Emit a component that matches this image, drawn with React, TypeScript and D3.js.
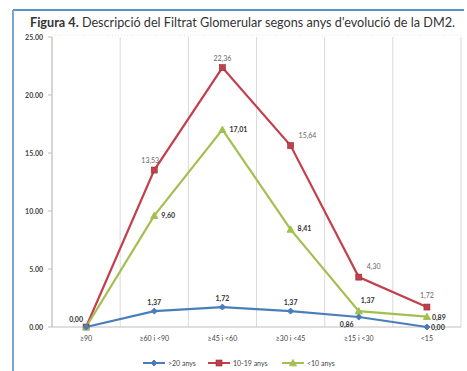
import React from "react";
import * as d3 from "d3";

const categories = ["≥90", "≥60 i <90", "≥45 i <60", "≥30 i <45", "≥15 i <30", "<15"];
const seriesNames = [">20 anys", "10-19 anys", "<10 anys"];
const over20 = [0.0, 1.37, 1.72, 1.37, 0.86, 0.0];
const from10to19 = [0.0, 13.53, 22.36, 15.64, 4.3, 1.72];
const under10 = [0.0, 9.6, 17.01, 8.41, 1.37, 0.89];
const yTicks = [0, 5, 10, 15, 20, 25];

const W = 467;
const H = 371;
const plot = { left: 52, right: 461, top: 37, bottom: 327 };

const colors = ["#4a7ebb", "#c43f4c", "#a2c04f"];
const fmt = (v: number) => v.toFixed(2).replace(".", ",");

export default function App() {
  const x = d3
    .scaleBand<string>()
    .domain(categories)
    .range([plot.left, plot.right]);
  const cx = (c: string) => (x(c) ?? 0) + x.bandwidth() / 2;
  const y = d3.scaleLinear().domain([0, 25]).range([plot.bottom, plot.top]);
  const line = d3
    .line<number>()
    .x((_, i) => cx(categories[i]))
    .y((d) => y(d));

  const series = [over20, from10to19, under10];
  const font = "Lato, 'Open Sans', sans-serif";

  const marker = (k: number, px: number, py: number, key: string) => {
    const c = colors[k];
    if (k === 0) {
      const s = 3;
      return (
        <path
          key={key}
          d={`M${px},${py - s}L${px + s},${py}L${px},${py + s}L${px - s},${py}Z`}
          fill={c}
          stroke={c}
        />
      );
    }
    if (k === 1) {
      return <rect key={key} x={px - 3} y={py - 3} width={6} height={6} fill={c} stroke="#8c2f2d" strokeWidth={0.6} />;
    }
    const s = 3.5;
    return (
      <path
        key={key}
        d={`M${px},${py - s}L${px + s},${py + s * 0.8}L${px - s},${py + s * 0.8}Z`}
        fill={c}
        stroke={c}
      />
    );
  };

  // label offsets per series and point
  const labelPos = (k: number, i: number): [number, number, string] => {
    if (k === 0) {
      if (i === 0) return [-10, -5, "middle"];
      if (i === 4) return [-12, 10, "middle"];
      if (i === 5) return [4, 3, "start"];
      return [0, -6, "middle"];
    }
    if (k === 1) {
      if (i === 2) return [0, -7, "middle"];
      if (i === 1) return [-4, -7, "middle"];
      if (i === 5) return [0, -9, "middle"];
      return [8, -8, "start"];
    }
    if (i === 5) return [5, 3, "start"];
    if (i === 4) return [2, -8, "start"];
    return [7, 2, "start"];
  };

  return (
    <svg width={W} height={H} style={{ position: "absolute", left: 0, top: 0, background: "#fff" }}>
      {/* frame */}
      <line x1={13} y1={10} x2={464} y2={10} stroke="#5b8fc7" strokeWidth={2} />
      <line x1={13} y1={10} x2={13} y2={H} stroke="#7aa6d6" strokeWidth={2} />

      <text x={30} y={27} fontFamily={font} fontSize={12.5} fill="#333" textLength={425} lengthAdjust="spacingAndGlyphs">
        <tspan fontWeight="bold">Figura 4.</tspan> Descripció del Filtrat Glomerular segons anys d'evolució de la DM2.
      </text>

      {/* plot top dotted line */}
      <line x1={plot.left} x2={plot.right} y1={plot.top - 2} y2={plot.top - 2} stroke="#f2d9b8" strokeWidth={0.8} strokeDasharray="1 2" />

      {/* vertical gridlines */}
      {d3.range(categories.length + 1).map((i) => {
        const gx = plot.left + i * x.bandwidth();
        return <line key={i} x1={gx} x2={gx} y1={plot.top} y2={plot.bottom} stroke="#d9d9d9" strokeWidth={1} />;
      })}
      <line x1={plot.left} x2={plot.right} y1={plot.bottom} y2={plot.bottom} stroke="#bfbfbf" />
      <line x1={plot.left} x2={plot.left} y1={plot.top} y2={plot.bottom} stroke="#bfbfbf" />

      {/* y ticks */}
      {yTicks.map((t) => (
        <g key={t}>
          <line x1={plot.left - 4} x2={plot.left} y1={y(t)} y2={y(t)} stroke="#bfbfbf" />
          <text x={plot.left - 9} y={y(t) + 2.5} textAnchor="end" fontFamily={font} fontSize={7} fontWeight="bold" fill="#444">
            {t.toFixed(2)}
          </text>
        </g>
      ))}

      {/* x labels */}
      {categories.map((c) => (
        <text key={c} x={cx(c)} y={plot.bottom + 14} textAnchor="middle" fontFamily={font} fontSize={7} fill="#444">
          {c}
        </text>
      ))}

      {/* lines */}
      {[1, 2, 0].map((k) => (
        <path key={k} d={line(series[k]) ?? ""} fill="none" stroke={colors[k]} strokeWidth={2.2} />
      ))}
      {[1, 2, 0].map((k) => series[k].map((v, i) => marker(k, cx(categories[i]), y(v), `${k}-${i}`)))}

      {/* data labels */}
      {[0, 1, 2].map((k) =>
        series[k].map((v, i) => {
          if (i === 0 && k !== 0) return null;
          const [dx, dy, anchor] = labelPos(k, i);
          return (
            <text
              key={`l${k}-${i}`}
              x={cx(categories[i]) + dx}
              y={y(v) + dy}
              textAnchor={anchor}
              fontFamily={font}
              fontSize={7}
              fontWeight={k === 1 ? "normal" : "bold"}
              fill={k === 1 ? "#666" : "#333"}
            >
              {fmt(v)}
            </text>
          );
        })
      )}

      {/* legend */}
      {seriesNames.map((n, k) => {
        const lx = [143, 208, 282][k];
        const ly = 363;
        return (
          <g key={n}>
            <line x1={lx} x2={lx + 22} y1={ly} y2={ly} stroke={colors[k]} strokeWidth={2} />
            {marker(k, lx + 11, ly, `lg${k}`)}
            <text x={lx + 25} y={ly + 2.5} fontFamily={font} fontSize={7} fill="#444">
              {n}
            </text>
          </g>
        );
      })}
    </svg>
  );
}
